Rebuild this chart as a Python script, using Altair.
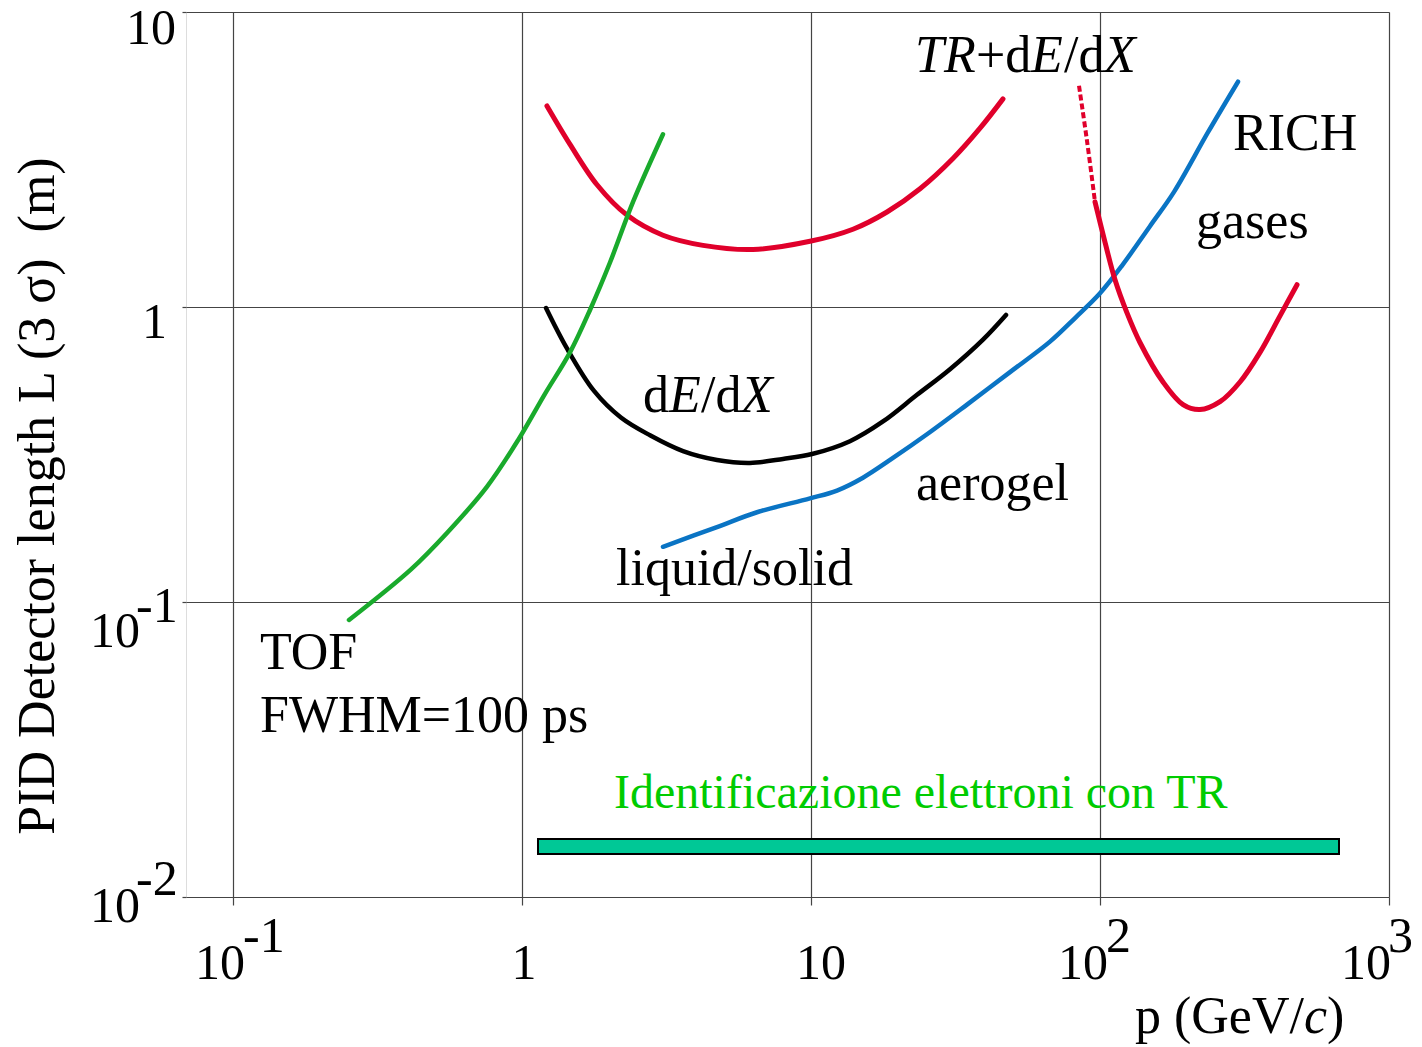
import altair as alt
import pandas as pd

# ---------------- data ----------------
# TOF (FWHM = 100 ps), green
tof_p = [0.252, 0.413, 0.550, 0.757, 0.969, 1.201, 1.466, 1.719, 2.016, 2.422, 3.075]
tof_L = [0.0869, 0.129, 0.1714, 0.2462, 0.3536, 0.5077, 0.7018, 0.977, 1.415, 2.271, 3.852]

# TR + dE/dX, red (left U)
trd_p = [1.220, 1.466, 1.818, 2.308, 3.075, 4.229, 6.300, 9.920, 13.97, 18.32, 23.84, 30.99, 38.45, 46.17]
trd_L = [4.803, 3.559, 2.597, 2.049, 1.751, 1.618, 1.567, 1.670, 1.835, 2.099, 2.516, 3.187, 4.038, 5.076]

# TR, red (right U) – dashed part and solid part
trdash_p = [84.6, 90.2, 96.1]
trdash_L = [5.623, 3.645, 2.271]
tr_p = [96.1, 104.1, 112.7, 124.0, 137.5, 165.2, 193.8, 221.8, 260.2, 305.1, 357.8, 419.6, 480.6]
tr_L = [2.271, 1.656, 1.237, 0.955, 0.758, 0.557, 0.4667, 0.449, 0.4776, 0.557, 0.702, 0.933, 1.190]

# RICH (liquid/solid -> aerogel -> gases), blue
rich_p = [3.075, 4.728, 6.505, 9.92, 12.30, 15.13, 19.22, 25.20, 34.66, 48.82, 67.14, 82.31,
          100.0, 119.2, 148.9, 180.4, 236.5, 300.3]
rich_L = [0.1539, 0.1795, 0.2015, 0.2245, 0.2387, 0.2639, 0.3078, 0.3703, 0.4667, 0.6015, 0.7630,
          0.9212, 1.113, 1.382, 1.879, 2.457, 3.913, 5.803]

# dE/dX, black
dedx_p = [1.211, 1.431, 1.775, 2.199, 2.773, 3.607, 4.728, 6.151, 8.000, 10.08, 13.64, 17.75,
          23.27, 30.27, 39.37, 47.29]
dedx_L = [0.992, 0.7236, 0.5196, 0.4222, 0.3675, 0.3248, 0.3031, 0.2962, 0.3055, 0.3174, 0.3509,
          0.4093, 0.5039, 0.6156, 0.7755, 0.940]

# electron identification with TR: momentum range bar
band_p = [1.136, 671.4]
band_L = [0.01399, 0.01573]

# tick labels
x_ticks = [0.1, 1, 10, 100, 1000]
x_base = ["10", "1", "10", "10", "10"]
x_exp = ["-1", "", "", "2", "3"]
y_ticks = [10, 1, 0.1, 0.01]
y_base = ["10", "1", "10", "10"]
y_exp = ["", "", "-1", "-2"]

# plain annotations (anchor = left end of baseline, in data coords)
ann_text = ["RICH", "gases", "aerogel", "liquid/solid", "TOF", "FWHM=100 ps"]
ann_p = [288.5, 214.9, 23.09, 2.115, 0.1240, 0.1240]
ann_L = [3.406, 1.713, 0.2218, 0.1142, 0.05929, 0.03625]

# mixed-style annotations
trlab_parts = ["TR", "+d", "E", "/d", "X"]
trlab_italic = [True, False, True, False, True]
trlab_anchor = (22.91, 6.26)
dedxlab_parts = ["d", "E", "/d", "X"]
dedxlab_italic = [False, True, False, True]
dedxlab_anchor = (2.623, 0.4406)

green_text = "Identificazione elettroni con TR"
green_anchor = (2.081, 0.02002)

y_title = "PID Detector length L (3 σ)\u00a0\u00a0(m)"
x_title_parts = ["p (GeV/", "c", ")"]

# ---------------- styles ----------------
FONT = "Liberation Serif"
RED = "#e0002b"
GREEN = "#19aa2c"
BLUE = "#0a74c4"
BLACK = "#000000"

xs = alt.Scale(type="log", domain=[10 ** -1.1626, 1000], nice=False)
ys = alt.Scale(type="log", domain=[0.01, 10], nice=False)
x_axis = alt.Axis(values=x_ticks, labels=False, title=None, grid=True, gridColor="#444",
                  gridWidth=1.2, ticks=True, tickSize=8, tickColor="#444", tickWidth=1.2,
                  domain=False)
y_axis = alt.Axis(values=y_ticks, labels=False, title=None, grid=True, gridColor="#444",
                  gridWidth=1.2, ticks=True, tickSize=4, tickColor="#444", tickWidth=1.2,
                  domain=False)
X = alt.X("p:Q", scale=xs, axis=x_axis)
Y = alt.Y("L:Q", scale=ys, axis=y_axis)


def line(ps, Ls, color, width, dash=None):
    df = pd.DataFrame({"p": ps, "L": Ls})
    kw = dict(color=color, strokeWidth=width, interpolate="catmull-rom",
              strokeCap="round", strokeJoin="round")
    if dash:
        kw["strokeDash"] = dash
        kw["strokeCap"] = "butt"
    return alt.Chart(df).mark_line(**kw).encode(x=X, y=Y)


def txt(df, dx=0, dy=0, size=52, italic=False, color=BLACK, align="left", x=None, y=None,
        angle=None):
    kw = dict(align=align, baseline="alphabetic", dx=dx, dy=dy, font=FONT, fontSize=size,
              fontStyle="italic" if italic else "normal", color=color)
    if angle is not None:
        kw["angle"] = angle
    enc = dict(text="t:N")
    enc["x"] = X if x is None else alt.value(x)
    enc["y"] = Y if y is None else alt.value(y)
    return alt.Chart(df).mark_text(**kw).encode(**enc)


layers = []

layers.append(line(rich_p, rich_L, BLUE, 4.5))
layers.append(line(dedx_p, dedx_L, BLACK, 4.5))
layers.append(line(trd_p, trd_L, RED, 5))
layers.append(line(trdash_p, trdash_L, RED, 4, dash=[6, 3]))
layers.append(line(tr_p, tr_L, RED, 5))
layers.append(line(tof_p, tof_L, GREEN, 4.5))

# TR band
band_df = pd.DataFrame({"p": [band_p[0]], "p2": [band_p[1]], "L": [band_L[0]], "L2": [band_L[1]]})
layers.append(alt.Chart(band_df).mark_rect(color="#00c896", stroke="black", strokeWidth=2)
              .encode(x=X, x2="p2:Q", y=Y, y2="L2:Q"))

# plain annotations
layers.append(txt(pd.DataFrame({"p": ann_p, "L": ann_L, "t": ann_text})))

# TR+dE/dX
tr_dx = [0, 61, 116, 149, 189]
for part, it, dx in zip(trlab_parts, trlab_italic, tr_dx):
    layers.append(txt(pd.DataFrame({"p": [trlab_anchor[0]], "L": [trlab_anchor[1]], "t": [part]}),
                      dx=dx, italic=it))
# dE/dX
de_dx = [0, 26, 58, 98]
for part, it, dx in zip(dedxlab_parts, dedxlab_italic, de_dx):
    layers.append(txt(pd.DataFrame({"p": [dedxlab_anchor[0]], "L": [dedxlab_anchor[1]], "t": [part]}),
                      dx=dx, italic=it))

# green text
layers.append(txt(pd.DataFrame({"p": [green_anchor[0]], "L": [green_anchor[1]], "t": [green_text]}),
                  size=48, color="#00cc00"))

# x tick labels
xb_dx = [12, 2, 10, 8, 2]
xe_dx = [10, 0, 0, 6, -1]
for i, (v, b, e) in enumerate(zip(x_ticks, x_base, x_exp)):
    if e:
        layers.append(txt(pd.DataFrame({"p": [v], "t": [b]}), dx=xb_dx[i], align="right",
                          size=50, y=967))
        layers.append(txt(pd.DataFrame({"p": [v], "t": [e]}), dx=xe_dx[i], align="left",
                          size=50, y=940))
    else:
        layers.append(txt(pd.DataFrame({"p": [v], "t": [b]}), dx=xb_dx[i], align="center",
                          size=50, y=967))

# y tick labels
yb_x = [-10, -19, -46, -46]
yb_dy = [32, 31, 45, 25]
ye_x = [0, 0, -50, -50]
ye_dy = [0, 0, 20, -2]
for i, (v, b, e) in enumerate(zip(y_ticks, y_base, y_exp)):
    layers.append(txt(pd.DataFrame({"L": [v], "t": [b]}), dy=yb_dy[i], align="right",
                      size=50, x=yb_x[i]))
    if e:
        layers.append(txt(pd.DataFrame({"L": [v], "t": [e]}), dy=ye_dy[i], align="left",
                          size=50, x=ye_x[i]))

# axis titles
layers.append(txt(pd.DataFrame({"t": [y_title]}), align="center", x=-132, y=484, angle=270))
xt_x = [949, 1118, 1141]
xt_it = [False, True, False]
for part, xx, it in zip(x_title_parts, xt_x, xt_it):
    layers.append(txt(pd.DataFrame({"t": [part]}), x=xx, y=1021, italic=it))

chart = (
    alt.layer(*layers)
    .properties(width=1203, height=885,
                padding={"left": 178, "top": 4, "right": 25, "bottom": 150},
                autosize=alt.AutoSizeParams(type="none"))
    .configure_view(stroke="#333", strokeWidth=2)
    .configure(background="white")
)

chart.save("out.html", embed_options={"renderer": "svg", "actions": False})
